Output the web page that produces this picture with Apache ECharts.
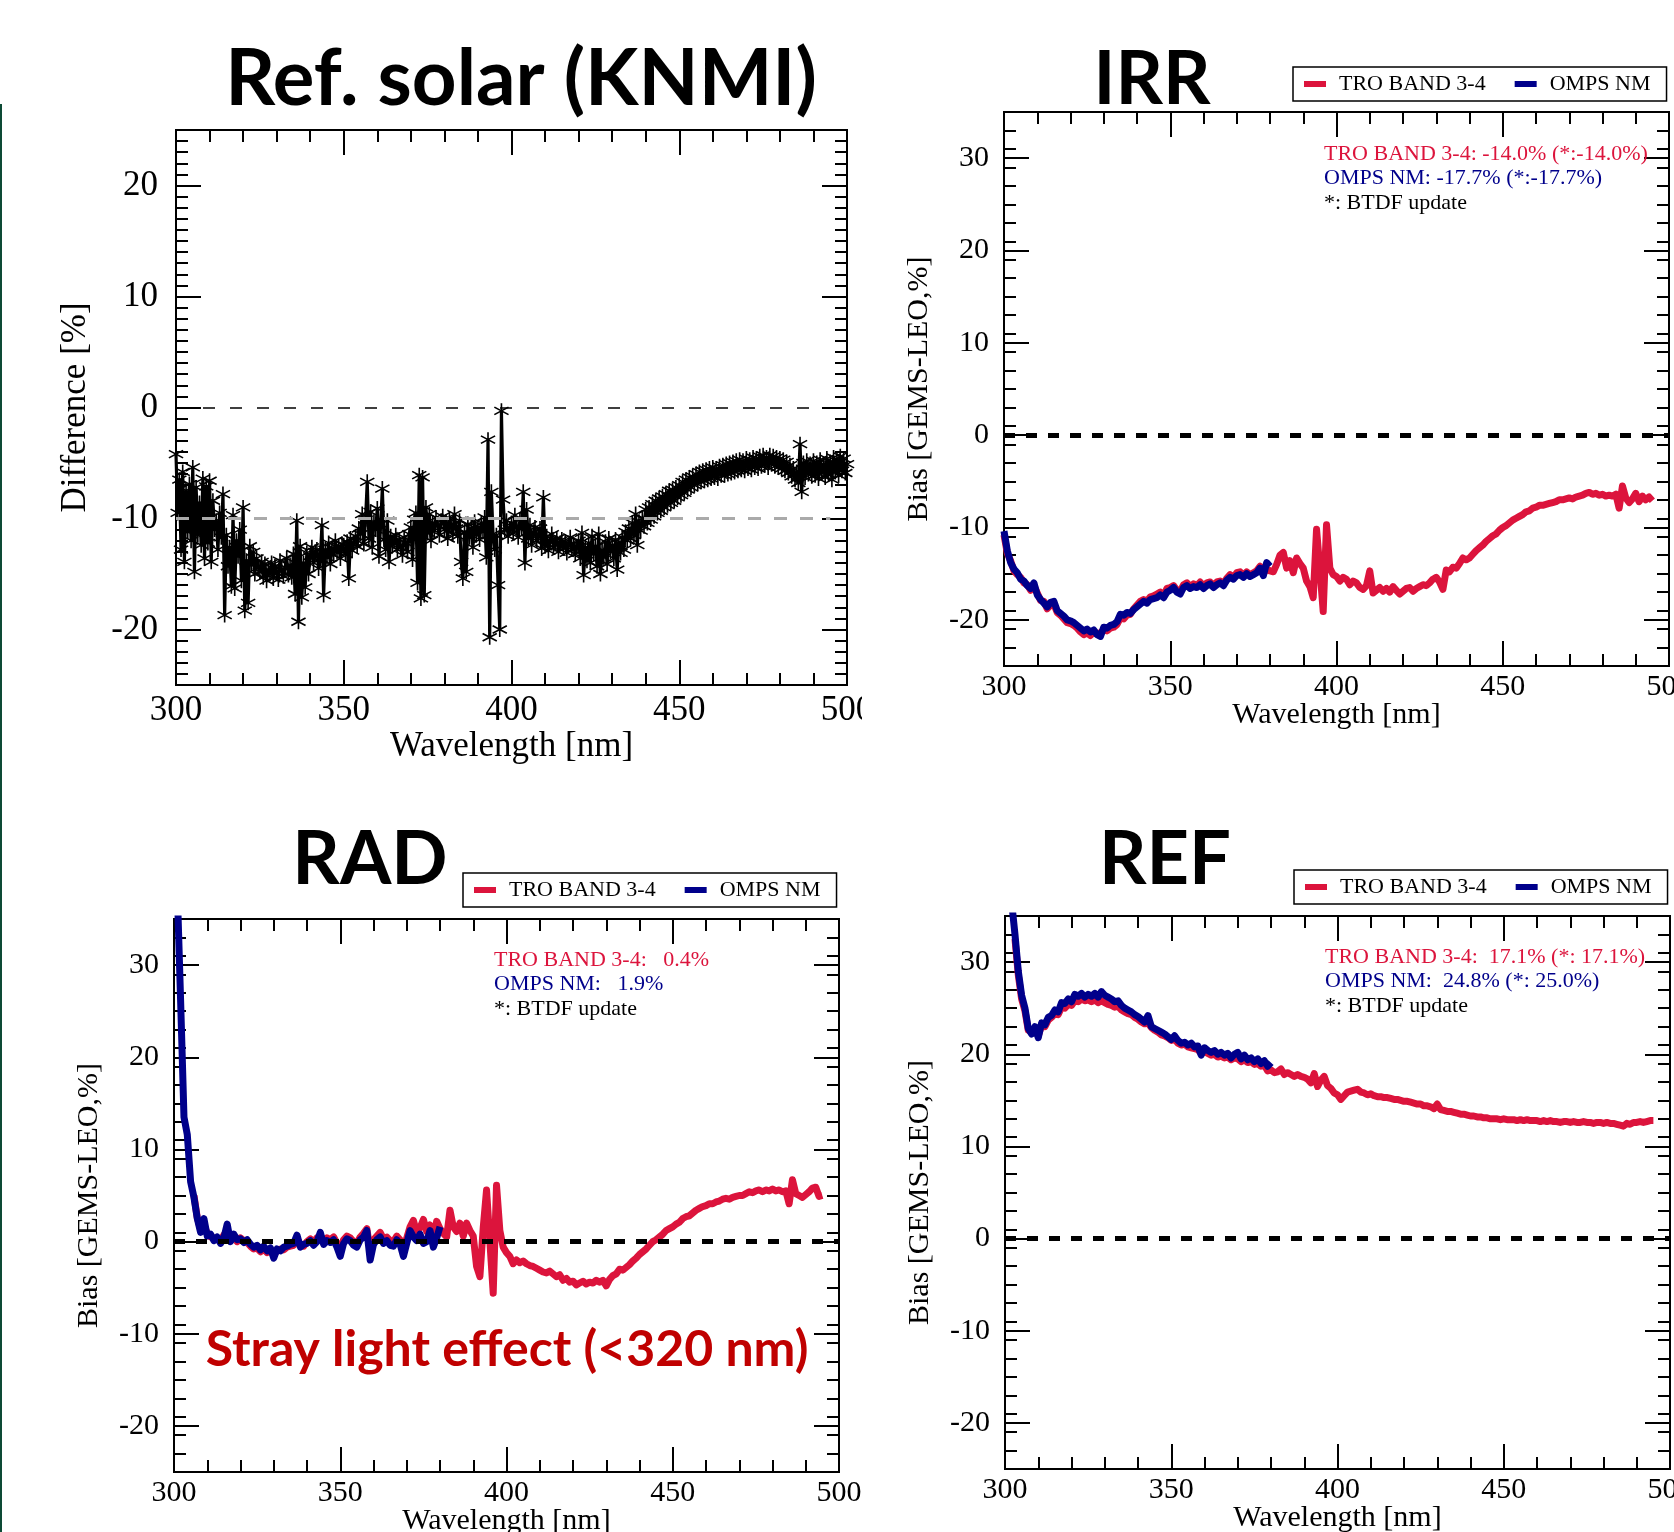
<!DOCTYPE html>
<html>
<head>
<meta charset="utf-8">
<title>GEMS bias</title>
<script src="https://cdn.jsdelivr.net/npm/echarts@6/dist/echarts.min.js"></script>
<style>
  html, body { margin: 0; padding: 0; background: #fff; }
  .page { position: relative; width: 1674px; height: 1532px; overflow: hidden; }
  .panel { position: absolute; overflow: hidden; }
  #solar { left: 0; top: 0; width: 862px; height: 770px; }
  #irr { left: 862px; top: 0; width: 812px; height: 770px; }
  #rad { left: 0; top: 770px; width: 862px; height: 762px; }
  #ref { left: 862px; top: 770px; width: 812px; height: 762px; }
  .edge { position: absolute; left: 0; top: 104px; width: 2px; height: 1428px; background: #0d4a35; z-index: 5; }
</style>
</head>
<body>
<div class="page">
  <div id="solar" class="panel"></div>
  <div id="irr" class="panel"></div>
  <div id="rad" class="panel"></div>
  <div id="ref" class="panel"></div>
  <div class="edge"></div>
</div>
<script>
// ---- data ----
// Ref. solar (KNMI) difference, 300..500 nm every 0.5 nm
const solarStart = 300, solarStep = 0.5;
const solarDiff = [
  -4.2, -9.5, -6.5, -12.8, -5.8, -13.9, -7.5, -11.2, -6.9, -12.0,
  -5.4, -14.8, -7.2, -11.5, -8.6, -12.4, -6.4, -13.6, -7.1, -12.2,
  -6.6, -13.9, -8.4, -11.0, -10.2, -12.8, -9.5, -11.7, -7.8, -18.7,
  -11.5, -14.3, -12.6, -16.1, -9.7, -16.3, -12.0, -13.4, -11.0, -15.6,
  -9.0, -18.3, -13.8, -17.6, -12.5, -14.2, -13.0, -15.0, -13.6, -14.4,
  -14.8, -13.9, -15.3, -14.1, -15.6, -14.6, -15.0, -14.0, -15.4, -14.3,
  -14.9, -15.5, -13.8, -14.7, -15.2, -14.4, -13.6, -15.1, -14.2, -15.3,
  -13.2, -16.8, -10.2, -19.3, -12.5, -17.1, -14.0, -16.2, -13.1, -15.0,
  -13.4, -12.6, -14.0, -13.0, -12.8, -14.5, -13.6, -10.6, -16.9, -12.8,
  -13.5, -12.2, -14.1, -12.7, -13.3, -12.0, -13.0, -12.5, -13.6, -12.3,
  -12.4, -13.2, -12.1, -15.4, -11.8, -12.9, -12.2, -11.6, -12.5, -10.9,
  -11.4, -9.6, -12.3, -10.1, -6.7, -11.8, -9.4, -12.6, -10.3, -11.0,
  -9.1, -13.4, -10.5, -7.3, -11.9, -12.8, -10.2, -13.9, -11.6, -12.4,
  -12.1, -11.5, -12.8, -11.9, -12.6, -13.3, -11.7, -12.2, -13.0, -11.4,
  -10.8, -13.7, -10.1, -9.5, -15.8, -6.1, -17.2, -6.3, -16.9, -9.0,
  -11.3, -9.6, -12.0, -10.4, -11.1, -9.9, -10.6, -11.5, -10.2, -9.8,
  -11.0, -10.3, -11.8, -10.0, -10.7, -11.4, -9.6, -10.9, -11.6, -10.2,
  -13.9, -15.4, -11.2, -14.8, -10.5, -11.7, -10.9, -12.6, -10.3, -11.5,
  -10.8, -11.9, -10.4, -11.2, -9.9, -13.5, -2.9, -20.7, -7.6, -11.4,
  -12.8, -11.5, -16.0, -20.0, -0.3, -8.3, -11.0, -10.2, -11.6, -10.9,
  -10.4, -11.3, -9.7, -10.8, -11.7, -10.1, -10.9, -7.6, -14.0, -9.2,
  -11.8, -10.6, -12.4, -11.3, -10.8, -12.0, -11.5, -10.9, -12.7, -8.1,
  -12.5, -11.6, -12.9, -12.0, -11.4, -12.6, -12.3, -11.8, -13.0, -12.2,
  -11.9, -12.7, -12.1, -13.1, -12.4, -11.7, -12.8, -12.3, -13.2, -12.5,
  -12.0, -13.6, -11.3, -15.1, -12.6, -13.8, -12.2, -14.0, -11.6, -13.2,
  -12.5, -14.3, -11.4, -15.0, -12.9, -13.5, -12.1, -14.1, -11.8, -13.0,
  -12.4, -13.6, -11.9, -14.6, -12.2, -13.1, -11.7, -12.8, -11.2, -12.0,
  -10.9, -11.8, -10.4, -11.5, -9.6, -12.4, -10.3, -11.1, -10.0, -10.7,
  -9.2, -10.4, -9.0, -10.1, -8.7, -9.8, -8.4, -9.5, -8.2, -9.3,
  -8.0, -9.0, -7.8, -8.8, -7.5, -8.6, -7.4, -8.4, -7.2, -8.1,
  -7.0, -7.9, -6.7, -7.7, -6.5, -7.4, -6.3, -7.2, -6.2, -7.0,
  -6.0, -6.9, -5.8, -6.7, -5.7, -6.6, -5.6, -6.5, -5.5, -6.4,
  -5.4, -6.3, -5.5, -6.4, -5.3, -6.1, -5.2, -6.1, -5.1, -6.0,
  -5.0, -5.9, -4.9, -5.8, -4.8, -5.7, -4.7, -5.6, -4.8, -5.7,
  -4.6, -5.5, -4.7, -5.6, -4.5, -5.4, -4.6, -5.5, -4.4, -5.3,
  -4.3, -5.2, -4.5, -5.4, -4.3, -5.1, -4.4, -5.3, -4.5, -5.4,
  -4.6, -5.5, -4.7, -5.7, -4.9, -5.9, -5.2, -6.2, -5.5, -6.5,
  -5.8, -6.8, -3.3, -7.6, -5.0, -6.3, -4.8, -6.0, -5.1, -6.2,
  -4.8, -6.1, -5.0, -6.4, -4.7, -5.9, -5.1, -6.3, -4.6, -6.0,
  -4.9, -6.5, -4.5, -5.8, -4.7, -6.1, -4.4, -5.7, -4.6, -5.9,
  -5.1
];
const solarZeroLevel = 0, solarRefLevel = -10, solarRefEnd = 495;

// IRR bias, 1 nm steps
const irrTroStart = 300;
const irrTro = [
  -10.8, -12.8, -13.6, -14.7, -15.1, -15.4, -16.0, -16.2, -16.8, -16.3,
  -17.1, -17.9, -18.0, -18.8, -18.4, -18.3, -19.2, -19.5, -19.9, -20.3,
  -20.4, -20.6, -20.9, -21.3, -21.6, -21.4, -21.7, -21.3, -21.5, -21.4,
  -21.1, -21.2, -20.9, -20.8, -20.5, -19.8, -19.9, -19.5, -19.4, -18.8,
  -18.4, -18.0, -17.8, -18.0, -17.5, -17.4, -17.2, -17.0, -17.4, -16.6,
  -16.5, -16.3, -16.8, -16.9, -16.2, -16.0, -16.4, -16.1, -16.3, -15.9,
  -16.4, -16.0, -15.9, -16.3, -15.9, -15.8, -16.1, -15.5, -15.1, -15.4,
  -14.9, -14.8, -15.2, -14.8, -15.1, -14.9, -14.7, -14.2, -15.0, -14.5,
  -14.7, -14.8, -14.0, -13.0, -12.7, -14.4, -13.6, -14.9, -13.3, -13.9,
  -14.4, -15.8, -16.4, -17.6, -10.2, -14.5, -19.1, -9.7, -14.4, -15.1,
  -15.3, -15.8, -15.4, -15.6, -16.2, -15.8, -16.0, -16.5, -16.7, -16.3,
  -14.7, -17.1, -16.8, -16.5, -16.9, -16.6, -17.0, -16.4, -16.8, -17.2,
  -16.9, -16.6, -16.5, -16.9, -16.6, -16.4, -16.2, -16.3, -16.0, -15.6,
  -15.4, -15.9, -16.7, -14.6, -14.8, -14.3, -14.4, -13.9, -13.3, -13.5,
  -13.3, -12.9, -12.5, -12.2, -11.9, -11.5, -11.2, -10.9, -10.7, -10.3,
  -10.0, -9.8, -9.5, -9.2, -9.0, -8.8, -8.6, -8.3, -8.2, -7.9,
  -7.8, -7.6, -7.6, -7.5, -7.4, -7.3, -7.2, -7.0, -7.0, -6.9,
  -6.8, -6.9, -6.7, -6.6, -6.5, -6.3, -6.2, -6.4, -6.3, -6.5,
  -6.4, -6.6, -6.5, -6.6, -6.4, -7.9, -5.5, -6.8, -7.3, -6.9,
  -6.3, -7.2, -6.6, -7.0, -6.7, -7.1
];
const irrOmpsStart = 300;
const irrOmps = [
  -10.4, -12.5, -13.8, -14.5, -14.9, -15.6, -15.8, -16.3, -16.6, -16.0,
  -17.3, -17.8, -18.2, -18.6, -18.1, -18.0, -19.0, -19.3, -19.6, -20.0,
  -20.1, -20.3, -20.6, -20.9, -21.2, -21.0, -21.3, -21.1, -21.6, -21.8,
  -20.8, -20.9, -20.6, -20.5, -20.2, -19.4, -19.5, -19.2, -19.3, -18.9,
  -18.6, -18.3, -18.0, -18.2, -17.8, -17.7, -17.6, -17.3, -17.6, -17.0,
  -16.8, -16.5, -17.0, -17.2, -16.5, -16.3, -16.6, -16.4, -16.5, -16.2,
  -16.6, -16.3, -16.1, -16.5, -16.2, -16.0, -16.3, -15.7, -15.4, -15.6,
  -15.2, -15.1, -15.4, -15.0, -15.3, -15.1, -14.9, -14.4, -15.2, -13.8,
  -14.2
];

// RAD bias
const radTroStart = 306;
const radTro = [
  5.0, 2.6, 1.3, 1.8, 0.9, 0.5, 0.4, 0.2, 0.1, 0.7,
  1.2, 0.3, 0.5, 0.0, 0.4, 0.1, -0.1, -0.5, -0.8, -0.7,
  -1.1, -0.8, -1.2, -0.9, -1.4, -1.0, -0.8, -0.9, -0.6, -0.5,
  -0.4, 0.3, -0.3, -0.5, 0.0, 0.3, -0.1, 0.4, 0.6, 0.1,
  0.4, 0.2, 0.5, -0.2, -0.8, 0.2, 0.6, 0.4, 0.0, -0.2,
  0.5, 0.9, 1.4, -1.0, 0.2, 0.6, 1.0, 0.3, 0.5, 0.1,
  0.0, 0.6, 0.2, -0.8, 0.4, 1.6, 2.3, 1.0, 1.5, 2.4,
  1.1, 1.8, 0.5, 2.2, 1.4, 0.9, 0.5, 3.4, 1.6, 1.1,
  2.0, 0.6, 2.0, 1.2, 0.6, -2.7, -3.8, 1.5, 5.6, 0.0,
  -5.6, 6.1, 1.2, -0.6, -1.2, -1.6, -2.4, -2.0, -2.3, -2.1,
  -2.4, -2.6, -2.7, -2.9, -3.1, -3.3, -3.4, -3.2, -3.5, -3.8,
  -3.6, -4.2, -4.0, -4.4, -4.3, -4.7, -4.5, -4.3, -4.6, -4.4,
  -4.5, -4.2, -4.4, -4.2, -4.8, -4.1, -3.7, -3.5, -3.0, -3.1,
  -2.8, -2.5, -2.1, -1.8, -1.4, -1.1, -0.8, -0.4, 0.0, 0.2,
  0.5, 0.8, 1.2, 1.4, 1.6, 1.9, 2.1, 2.5, 2.7, 2.8,
  3.1, 3.4, 3.6, 3.8, 3.9, 4.1, 4.1, 4.3, 4.4, 4.6,
  4.7, 4.6, 4.8, 4.9, 5.0, 5.0, 5.2, 5.4, 5.3, 5.5,
  5.6, 5.4, 5.6, 5.5, 5.7, 5.5, 5.6, 5.4, 5.5, 4.1,
  6.7, 5.2, 5.0, 4.8, 5.1, 5.4, 5.8, 5.9, 4.9, 5.0
];
const radOmpsStart = 301;
const radOmps = [
  38, 26, 13.5, 11.6, 6.5, 4.8, 2.5, 1.0, 2.5, 0.6,
  0.8, 0.1, 0.5, -0.2, 0.4, 1.9, 0.0, 0.8, 0.2, 0.3,
  -0.1, 0.2, -0.3, -0.6, -0.4, -0.9, -0.5, -1.0, -0.7, -1.8,
  -0.8, -1.0, -0.6, -0.5, -0.3, -0.2, 0.7, -0.6, -0.3, -0.2,
  0.1, -0.4, 0.0, 1.0, -0.3, 0.1, -0.1, 0.2, -0.6, -1.6,
  -0.2, 0.3, 0.1, -0.4, -0.6, 0.2, 0.5, 1.2, -2.0, -0.3,
  0.2, 0.5, -0.2, 0.1, -0.4, -0.5, 0.2, -0.3, -1.6, -0.2,
  1.2, 0.5, 0.1, 0.8, -0.2, 0.0, 1.2, -0.6, 0.4, 1.6
];

// REF bias
const refTroStart = 303;
const refTro = [
  32.5, 28.6, 26.0, 24.7, 22.6, 22.4, 22.8, 22.0, 23.1, 23.0,
  23.7, 24.0, 24.4, 24.3, 25.1, 25.0, 25.4, 25.3, 25.8, 25.7,
  26.0, 25.8, 25.9, 25.7, 25.9, 25.6, 25.8, 25.6, 25.4, 25.3,
  25.1, 25.2, 24.8, 24.6, 24.4, 24.3, 24.0, 23.8, 23.5, 23.3,
  23.4, 22.9, 22.6, 22.4, 22.1, 22.0, 21.8, 21.5, 21.6, 21.2,
  21.0, 21.1, 20.8, 20.7, 20.6, 20.5, 20.1, 20.3, 20.1, 19.9,
  20.0, 19.7, 19.8, 19.6, 19.7, 19.4, 19.6, 19.5, 19.2, 19.4,
  19.1, 19.2, 18.9, 19.0, 18.7, 18.8, 18.2, 18.3, 18.0, 18.1,
  18.4, 17.8, 18.0, 17.8, 17.6, 17.8, 17.6, 17.5, 17.3, 16.9,
  17.9, 16.5, 17.2, 17.6, 16.6, 16.3, 15.8, 15.6, 15.1, 15.5,
  15.9, 16.0, 16.1, 16.2, 15.9, 15.8, 15.6, 15.7, 15.5, 15.4,
  15.4, 15.3, 15.3, 15.2, 15.1, 15.1, 15.0, 14.9, 14.9, 14.8,
  14.7, 14.6, 14.6, 14.4, 14.4, 14.3, 14.1, 14.6, 14.0, 13.9,
  13.8, 13.8, 13.7, 13.6, 13.5, 13.5, 13.4, 13.3, 13.3, 13.2,
  13.2, 13.1, 13.1, 13.0, 13.0, 13.0, 12.9, 13.0, 12.9, 12.9,
  12.9, 12.8, 12.9, 12.8, 12.9, 12.8, 12.8, 12.8, 12.7, 12.8,
  12.7, 12.8, 12.7, 12.7, 12.6, 12.7, 12.7, 12.6, 12.7, 12.6,
  12.6, 12.7, 12.6, 12.6, 12.5, 12.6, 12.6, 12.5, 12.6, 12.5,
  12.5, 12.4, 12.3, 12.2, 12.5, 12.4, 12.6, 12.6, 12.7, 12.6,
  12.7, 12.8, 12.8
];
const refOmpsStart = 302;
const refOmps = [
  36.5, 33.0, 29.0, 26.4, 25.0, 22.8, 22.2, 23.0, 21.8, 23.4,
  23.2, 24.0, 24.2, 24.8, 24.6, 25.6, 25.5, 26.0, 25.7, 26.5,
  26.3, 26.6, 26.2, 26.5, 26.3, 26.6, 26.2, 26.8, 26.4, 26.2,
  26.0, 25.7, 25.8, 25.3, 25.0, 24.8, 24.6, 24.3, 24.1, 23.8,
  23.5, 24.2, 23.0, 22.8, 22.6, 22.4, 22.2, 21.9, 21.6, 22.0,
  21.5, 21.2, 21.3, 21.0, 21.2, 20.8, 20.9, 19.9, 20.7, 20.4,
  20.2, 20.4, 20.0, 20.2, 19.9, 20.1, 19.6, 20.0, 20.2, 19.5,
  19.9, 19.4, 19.6, 19.2, 19.5, 19.0, 19.3, 18.7, 19.1
];

// axis ticks
const diffTicks = [-20, -10, 0, 10, 20];
const biasTicks = [-20, -10, 0, 10, 20, 30];
const seriesNames = ['TRO BAND 3-4', 'OMPS NM'];
const irrNotes = ['TRO BAND 3-4: -14.0% (*:-14.0%)', 'OMPS NM: -17.7% (*:-17.7%)', '*: BTDF update'];
const radNotes = ['TRO BAND 3-4:   0.4%', 'OMPS NM:   1.9%', '*: BTDF update'];
const refNotes = ['TRO BAND 3-4:  17.1% (*: 17.1%)', 'OMPS NM:  24.8% (*: 25.0%)', '*: BTDF update'];

// ---- helpers ----
const SERIF = "'Liberation Serif', 'Times New Roman', serif";
const RED = '#DC143C';
const BLUE = '#00008B';
const STAR = 'path://M-1,-10L1,-10L1,10L-1,10Z M-9.16,-4.13L-8.16,-5.87L9.16,4.13L8.16,5.87Z M-8.16,5.87L-9.16,4.13L8.16,-5.87L9.16,-4.13Z';

const toPairs = (start, step, values) => values.map((v, i) => [start + i * step, v]);

function steps(from, to, step) {
  const out = [];
  for (let v = from; v <= to; v += step) out.push(v);
  return out;
}

function xAxes(size, nameGap, margin) {
  const tickLine = { color: '#000', width: 2 };
  const base = {
    type: 'value', min: 300, max: 500, interval: 50,
    splitLine: { show: false }, axisLine: { show: false, onZero: false },
    axisTick: { inside: true, length: 25, lineStyle: tickLine },
    minorTick: { show: true, splitNumber: 5, length: 12, lineStyle: tickLine }
  };
  return [
    {
      ...base, position: 'bottom',
      name: 'Wavelength [nm]', nameLocation: 'middle', nameGap, nameMoveOverlap: false,
      nameTextStyle: { fontFamily: SERIF, fontSize: size, color: '#000' },
      axisLabel: { fontFamily: SERIF, fontSize: size, color: '#000', margin, showMinLabel: true, showMaxLabel: true, hideOverlap: false }
    },
    { ...base, position: 'top', axisLabel: { show: false } }
  ];
}

function yAxes(min, max, majors, minorStep, size, name, nameGap, margin) {
  const tickLine = { color: '#000', width: 2 };
  const minors = steps(min, max, minorStep);
  const base = { type: 'value', min, max, splitLine: { show: false }, axisLine: { show: false, onZero: false } };
  const major = { inside: true, length: 25, lineStyle: tickLine, customValues: majors };
  const minor = { inside: true, length: 12, lineStyle: tickLine, customValues: minors };
  return [
    {
      ...base, position: 'left', axisTick: major,
      name, nameLocation: 'middle', nameGap, nameMoveOverlap: false,
      nameTextStyle: { fontFamily: SERIF, fontSize: size, color: '#000' },
      axisLabel: { customValues: majors, fontFamily: SERIF, fontSize: size, color: '#000', margin }
    },
    { ...base, position: 'left', axisTick: minor, axisLabel: { show: false } },
    { ...base, position: 'right', axisTick: major, axisLabel: { show: false } },
    { ...base, position: 'right', axisTick: minor, axisLabel: { show: false } }
  ];
}

function grid(left, top, width, height) {
  return { left, top, width, height, show: true, borderColor: '#000', borderWidth: 2, containLabel: false, outerBoundsMode: 'none' };
}

function label(text, x, y, font, fill, align) {
  return {
    type: 'text', x, y, z: 100, silent: true,
    style: { text, font, fill, align: align || 'left', verticalAlign: 'middle', textAlign: align || 'left', textVerticalAlign: 'middle' }
  };
}

function titleText(text, x, y, size) {
  return label(text, x, y, `bold ${size}px Lato, 'Open Sans', sans-serif`, '#000', 'center');
}

function notes(lines, x, y) {
  const colors = [RED, BLUE, '#000'];
  return lines.map((t, i) => label(t, x, y + i * 24.5, `22px ${SERIF}`, colors[i]));
}

function legendAt(left, top) {
  return {
    left, top, orient: 'horizontal', icon: 'rect', selectedMode: false,
    itemWidth: 22, itemHeight: 6, itemGap: 29,
    padding: [6, 16, 6, 11], borderColor: '#000', borderWidth: 1.5, backgroundColor: '#fff',
    textStyle: { fontFamily: SERIF, fontSize: 22, color: '#000', padding: [0, 0, 0, 8] },
    data: seriesNames
  };
}

function curve(name, data, color) {
  return {
    name, type: 'line', data, symbol: 'none', color, silent: true,
    lineStyle: { color, width: 7, join: 'round' }, itemStyle: { color }
  };
}

function biasPanel(id, cfg) {
  const chart = echarts.init(document.getElementById(id));
  const tro = curve(seriesNames[0], cfg.tro, RED);
  tro.markLine = {
    silent: true, symbol: 'none', label: { show: false },
    lineStyle: { color: '#000', width: 5, type: [11, 11] },
    data: [{ yAxis: 0 }]
  };
  chart.setOption({
    animation: false,
    grid: grid(...cfg.grid),
    legend: legendAt(...cfg.legend),
    xAxis: xAxes(30, 34, 6),
    yAxis: yAxes(-25, 35, biasTicks, 2, 30, 'Bias [GEMS-LEO,%]', 70, 15),
    graphic: [titleText(cfg.title, ...cfg.titlePos, 74), ...notes(cfg.notes, ...cfg.notePos), ...(cfg.extra || [])],
    series: [tro, curve(seriesNames[1], cfg.omps, BLUE)]
  });
}

// ---- Ref. solar (KNMI) ----
const solarChart = echarts.init(document.getElementById('solar'));
solarChart.setOption({
  animation: false,
  grid: grid(176, 130, 671, 555),
  xAxis: xAxes(35, 44, 8),
  yAxis: yAxes(-25, 25, diffTicks, 1, 35, 'Difference [%]', 83, 18),
  graphic: [titleText('Ref. solar (KNMI)', 521, 80, 78)],
  series: [{
    name: 'KNMI', type: 'line', silent: true,
    data: toPairs(solarStart, solarStep, solarDiff),
    symbol: STAR, symbolSize: 15, showAllSymbol: true,
    lineStyle: { color: '#000', width: 3.2 },
    itemStyle: { color: '#000', borderWidth: 0 },
    markLine: {
      silent: true, symbol: 'none', label: { show: false },
      data: [
        { yAxis: solarZeroLevel, lineStyle: { color: '#000', width: 1.6, type: [12, 15] } },
        [
          { coord: [solarStart, solarRefLevel], lineStyle: { color: '#aaaaaa', width: 3.2, type: [13, 13] } },
          { coord: [solarRefEnd, solarRefLevel] }
        ]
      ]
    }
  }]
});

// ---- IRR / RAD / REF ----
biasPanel('irr', {
  grid: [142, 112, 665, 554],
  legend: [431, 67],
  title: 'IRR', titlePos: [290, 80],
  notes: irrNotes, notePos: [462, 154],
  tro: toPairs(irrTroStart, 1, irrTro),
  omps: toPairs(irrOmpsStart, 1, irrOmps)
});

biasPanel('rad', {
  grid: [174, 149, 665, 553],
  legend: [463, 103],
  title: 'RAD', titlePos: [370, 90],
  notes: radNotes, notePos: [494, 190],
  tro: toPairs(radTroStart, 1, radTro),
  omps: toPairs(radOmpsStart, 1, radOmps),
  extra: [label('Stray light effect (<320 nm)', 507, 580, "bold 50px Lato, 'Open Sans', sans-serif", '#C00000', 'center')]
});

biasPanel('ref', {
  grid: [143, 146, 665, 553],
  legend: [432, 100],
  title: 'REF', titlePos: [303, 90],
  notes: refNotes, notePos: [463, 187],
  tro: toPairs(refTroStart, 1, refTro),
  omps: toPairs(refOmpsStart, 1, refOmps)
});
</script>
</body>
</html>
